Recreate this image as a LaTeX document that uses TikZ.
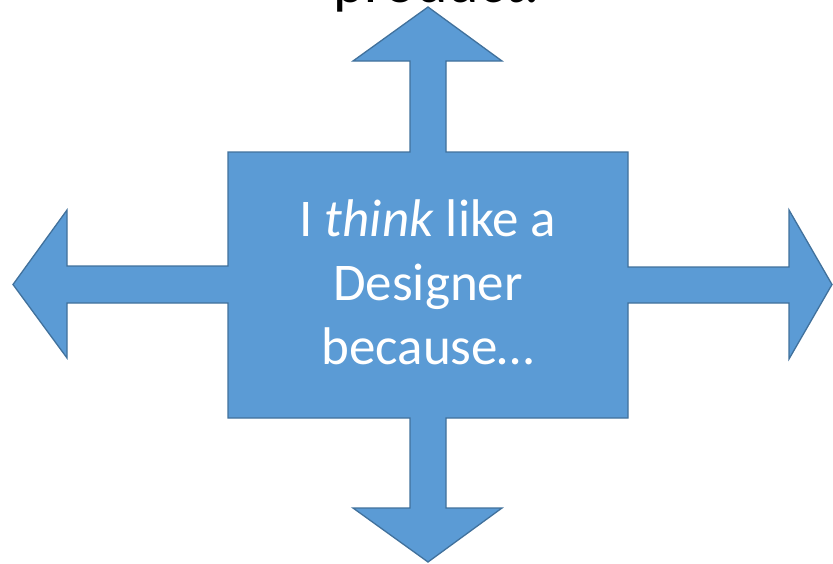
\documentclass[tikz,border=0pt]{standalone}
\usepackage{fontspec}
\setmainfont{Carlito}
\definecolor{arrowfill}{HTML}{5B9BD5}
\definecolor{arrowline}{HTML}{41719C}
\begin{document}
\begin{tikzpicture}[x=1pt,y=-1pt,
  quadarrow/.style={fill=arrowfill,draw=arrowline,line width=1.3pt,line join=miter},
  bodytext/.style={text=white,align=center,inner sep=0pt,font={\fontsize{53}{64}\selectfont}},
  titletext/.style={text=black,inner sep=0pt,font={\fontsize{60}{72}\selectfont}}]
\useasboundingbox (0,0) rectangle (833,563);
\draw[quadarrow]
  (428,7) -- (502,61) -- (446,61) -- (446,152) -- (628,152) -- (628,267)
  -- (789,267) -- (789,210) -- (832,284.5) -- (789,359) -- (789,303) -- (628,303)
  -- (628,418) -- (446,418) -- (446,508) -- (502,508) -- (428,562) -- (353,508)
  -- (410,508) -- (410,418) -- (228,418) -- (228,303) -- (67,303) -- (67,358)
  -- (13,284.5) -- (67,210) -- (67,266) -- (228,266) -- (228,152) -- (410,152)
  -- (410,61) -- (353,61) -- cycle;
\node[bodytext] (label) at (428,282.7) {I \textit{think} like a\\Designer\\because\ldots};
\node[titletext,anchor=base west] (title) at (333,2) {product.};
\end{tikzpicture}
\end{document}
